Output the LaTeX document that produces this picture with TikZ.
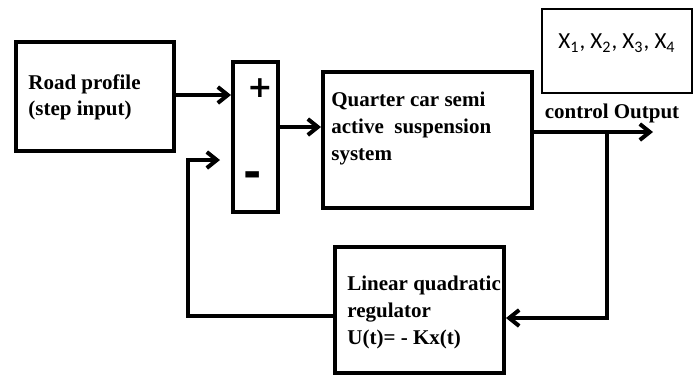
\documentclass[tikz,border=0pt]{standalone}
\usepackage{fontspec}
\setmainfont{Liberation Serif}
\newfontfamily\xfont{Carlito}
\newfontfamily\signfont{DejaVu Sans}
\usetikzlibrary{arrows.meta}

\tikzset{
  block/.style={draw, line width=2pt, inner sep=0pt},
  blocktext/.style={align=left, inner sep=0pt, font=\bfseries\fontsize{10.5}{13}\selectfont},
  wire/.style={line width=2pt},
}

\begin{document}
\begin{tikzpicture}[>={Straight Barb[length=5pt,width=8pt]}, x=0.5pt, y=-0.5pt]
  \useasboundingbox (0,0) rectangle (697,376);
  \node[block, minimum width=79pt, minimum height=54.5pt] (road) at (95,96.5) {};
  \node[blocktext, anchor=west] (roadtxt) at (28,97) {Road profile\\(step input)};
  \node[block, minimum width=22.5pt, minimum height=75pt] (sum) at (255.5,137) {};
  \node[font=\signfont\bfseries\fontsize{15}{15}\selectfont] (plus) at (260,88) {+};
  \node[font=\signfont\bfseries\fontsize{22}{22}\selectfont] (minus) at (253,180) {-};
  \node[block, minimum width=104.5pt, minimum height=68pt] (plant) at (427.5,140) {};
  \node[blocktext, anchor=west, font=\bfseries\fontsize{10.5}{13.5}\selectfont] (planttxt) at (331,128) {Quarter car semi\\active~~suspension\\system};
  \node[block, minimum width=84.5pt, minimum height=63pt] (lqr) at (419.5,310) {};
  \node[blocktext, anchor=west, font=\bfseries\fontsize{10.5}{13.5}\selectfont] (lqrtxt) at (347,312) {Linear quadratic\\regulator\\U(t)= - Kx(t)};
  \node[draw, line width=0.8pt, minimum width=75pt, minimum height=42pt] (xbox) at (617,51) {};
  \node[anchor=west, inner sep=0pt, font=\xfont\fontsize{11.5}{13}\selectfont] (xtxt) at (558,43) {X\textsubscript{1}, X\textsubscript{2}, X\textsubscript{3}, X\textsubscript{4}};
  \node[blocktext] (outlbl) at (612,113) {control Output};
  \coordinate (out) at (653,132);
  \coordinate (tap) at (607,132);
  \coordinate (fb) at (220,160);
  \draw[wire, ->] ([yshift=0.75pt]road.east) -- ([yshift=0.75pt]road.east -| sum.west);
  \draw[wire, ->] ([yshift=5pt]sum.east) -- ([yshift=5pt]sum.east -| plant.west);
  \draw[wire, ->] ([yshift=4pt]plant.east) -- (out);
  \draw[wire, ->] (tap) |- ([yshift=-4pt]lqr.east);
  \draw[wire, ->] ([yshift=-3pt]lqr.west) -| ([xshift=-16pt]fb) -- (fb);
\end{tikzpicture}
\end{document}
